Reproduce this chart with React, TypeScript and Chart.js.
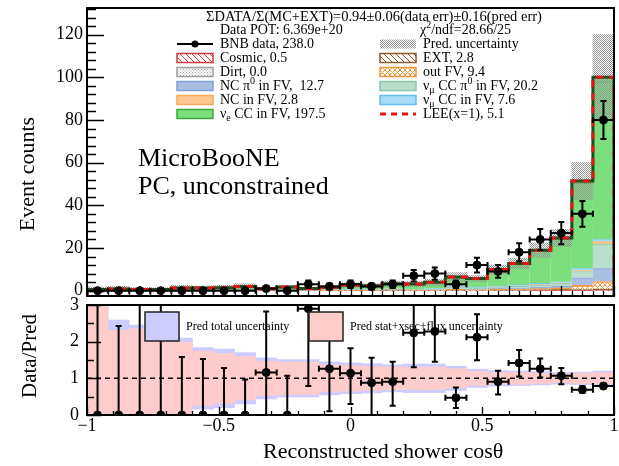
import React, { useEffect, useRef } from 'react';
import { Chart, registerables } from 'chart.js';

Chart.register(...registerables);

const FONT = "'Liberation Serif', 'DejaVu Serif', serif";

// ---------------- data ----------------
const binCenters = [-0.96, -0.88, -0.8, -0.72, -0.64, -0.56, -0.48, -0.4, -0.32, -0.24, -0.16, -0.08, 0, 0.08, 0.16, 0.24, 0.32, 0.4, 0.48, 0.56, 0.64, 0.72, 0.8, 0.88, 0.96];
const binHalfWidth = 0.04;

const cosmic = [0, 0, 0, 0, 0, 0, 0, 0, 0, 0, 0, 0, 0, 0, 0, 0, 0, 0, 0, 0, 0, 0.1, 0.1, 0.1, 0.2];
const ext = [0, 0, 0, 0, 0, 0, 0, 0, 0, 0, 0, 0, 0, 0, 0.2, 0, 0, 0.3, 0, 0.3, 0.3, 0.3, 0.4, 0.4, 0.6];
const dirt = [0, 0, 0, 0, 0, 0, 0, 0, 0, 0, 0, 0, 0, 0, 0, 0, 0, 0, 0, 0, 0, 0, 0, 0, 0];
const outFV = [0, 0, 0, 0, 0, 0, 0, 0, 0, 0, 0, 0.1, 0.1, 0.1, 0.2, 0.2, 0.2, 0.3, 0.4, 0.4, 0.5, 0.6, 0.8, 2.0, 3.5];
const ncPi0 = [0, 0, 0, 0, 0, 0, 0, 0, 0, 0, 0.1, 0.1, 0.1, 0.1, 0.1, 0.1, 0.1, 0.2, 0.2, 0.3, 0.4, 0.6, 0.8, 3.5, 6.0];
const numuPi0 = [0, 0, 0, 0, 0, 0, 0, 0, 0, 0, 0, 0.1, 0.1, 0.1, 0.2, 0.2, 0.3, 0.6, 0.5, 0.6, 0.8, 1.0, 1.2, 3.0, 11.5];
const ncFV = [0, 0, 0, 0, 0, 0, 0, 0, 0, 0, 0, 0, 0, 0, 0, 0.1, 0.1, 0.1, 0.1, 0.1, 0.2, 0.2, 0.3, 0.4, 1.2];
const numuCC = [0, 0.1, 0.1, 0, 0.1, 0.1, 0.1, 0.1, 0.1, 0.1, 0.1, 0.1, 0.2, 0.2, 0.2, 0.2, 0.3, 0.8, 0.4, 0.5, 0.5, 0.6, 0.6, 1.0, 1.0];
const nueCC = [0.5, 0.7, 0.5, 0.6, 1.1, 1.1, 1.3, 1.8, 0.8, 1.6, 0.8, 1.2, 2.1, 1.7, 2.3, 2.2, 2.8, 4.0, 3.9, 7.5, 9.7, 15.2, 20.0, 40.0, 74.0];
const lee = [0, 0, 0, 0, 0, 0, 0, 0, 0, 0, 0, 0, 0, 0.1, 0.1, 0.1, 0.1, 0.1, 0.2, 0.2, 0.3, 0.4, 0.5, 1.0, 2.0];

const dataCounts = [0, 0, 0, 0, 0, 0, 0, 0, 1, 0, 3, 2, 3, 2, 3, 7, 8, 3, 12, 9, 18, 24, 27, 36, 80];

const ratio = [0, 0, 0, 0, 0, 0, 0, 0, 1.16, 0, 2.9, 1.26, 1.14, 0.88, 0.91, 2.24, 2.28, 0.47, 2.12, 0.91, 1.42, 1.26, 1.07, 0.69, 0.79];
const ratioHi = [3.5, 2.43, 3.4, 3.1, 1.58, 1.53, 1.28, 0.97, 2.82, 1.07, 3.5, 2.3, 1.82, 1.56, 1.45, 3.1, 3.08, 0.75, 2.75, 1.21, 1.77, 1.54, 1.28, 0.79, 0.86];
const ratioLo = [0, 0, 0, 0, 0, 0, 0, 0, 0, 0, 0.79, 0.1, 0.3, 0, 0.25, 1.3, 1.45, 0.19, 1.49, 0.56, 1.05, 1.02, 0.84, 0.6, 0.72];

const predTotalRelErr = [2.5, 1.59, 1.45, 1.36, 1.1, 0.84, 0.8, 0.7, 0.56, 0.51, 0.51, 0.45, 0.42, 0.4, 0.37, 0.39, 0.39, 0.33, 0.25, 0.21, 0.2, 0.18, 0.16, 0.17, 0.2];
const predStatRelErr = [2.5, 1.31, 1.36, 1.26, 0.98, 0.74, 0.68, 0.59, 0.47, 0.44, 0.44, 0.37, 0.35, 0.33, 0.31, 0.3, 0.31, 0.26, 0.19, 0.16, 0.16, 0.14, 0.12, 0.14, 0.15];

const topYTickLabels = [0, 20, 40, 60, 80, 100, 120];
const botYTickLabels = [0, 1, 2, 3];
const botXTickLabels = [-1, -0.5, 0, 0.5, 1];

const TOP_MIN = -2.5;
const TOP_MAX = 132.5;

// ---------------- colours ----------------
const C = {
  cosmic: 'rgb(200,60,60)',
  ext: 'rgb(140,90,45)',
  dirt: 'rgb(160,160,160)',
  outFV: 'rgb(245,150,60)',
  ncPi0: 'rgb(170,190,228)',
  ncPi0B: 'rgb(130,160,215)',
  numuPi0: 'rgb(186,222,204)',
  numuPi0B: 'rgb(140,200,170)',
  nc: 'rgb(252,200,145)',
  ncB: 'rgb(250,170,95)',
  numuCC: 'rgb(168,220,248)',
  numuCCB: 'rgb(100,190,240)',
  nue: 'rgb(124,222,124)',
  nueB: 'rgb(60,170,60)',
  lee: 'rgb(235,20,20)',
  outline: 'rgb(30,80,30)',
  blue: 'rgb(204,204,255)',
  pink: 'rgb(255,204,204)',
};

function makePattern(size: number, draw: (c: CanvasRenderingContext2D) => void): CanvasPattern {
  const cv = document.createElement('canvas');
  cv.width = size;
  cv.height = size;
  const c = cv.getContext('2d')!;
  draw(c);
  return c.createPattern(cv, 'repeat')!;
}

function hatch(color: string, size: number, both: boolean) {
  return makePattern(size, (c) => {
    c.strokeStyle = color;
    c.lineWidth = 1;
    c.beginPath();
    for (let k = -1; k <= 1; k++) {
      c.moveTo(k * size, 0);
      c.lineTo(k * size + size, size);
      if (both) {
        c.moveTo(k * size + size, 0);
        c.lineTo(k * size, size);
      }
    }
    c.stroke();
  });
}

function dots(color: string, size: number) {
  return makePattern(size, (c) => {
    c.fillStyle = color;
    c.fillRect(0, 0, 1, 1);
    c.fillRect(size / 2, size / 2, 1, 1);
  });
}

type Seg = { t: string; s?: 'sup' | 'sub' };

function drawRich(ctx: CanvasRenderingContext2D, segs: Seg[], x: number, y: number, size: number) {
  let cx = x;
  ctx.textAlign = 'left';
  ctx.textBaseline = 'middle';
  for (const sg of segs) {
    if (sg.s) {
      ctx.font = `${Math.round(size * 0.7)}px ${FONT}`;
      const dy = sg.s === 'sup' ? -size * 0.35 : size * 0.3;
      ctx.fillText(sg.t, cx, y + dy);
      cx += ctx.measureText(sg.t).width;
    } else {
      ctx.font = `${size}px ${FONT}`;
      ctx.fillText(sg.t, cx, y);
      cx += ctx.measureText(sg.t).width;
    }
  }
}

type ErrPt = { x: number; y: number; lo: number; hi: number; xl: number; xh: number };

function drawErrBars(chart: any, xs: any, ys: any, pts: ErrPt[]) {
  const { ctx, chartArea: a } = chart;
  const cap = 3;
  ctx.save();
  ctx.beginPath();
  ctx.rect(a.left, a.top - 1, a.right - a.left, a.bottom - a.top + 2);
  ctx.clip();
  ctx.strokeStyle = '#000';
  ctx.lineWidth = 2;
  ctx.beginPath();
  for (const p of pts) {
    const px = xs.getPixelForValue(p.x);
    const py = ys.getPixelForValue(p.y);
    const x1 = xs.getPixelForValue(p.xl);
    const x2 = xs.getPixelForValue(p.xh);
    if (x2 > x1) {
      ctx.moveTo(x1, py);
      ctx.lineTo(x2, py);
      ctx.moveTo(x1, py - cap);
      ctx.lineTo(x1, py + cap);
      ctx.moveTo(x2, py - cap);
      ctx.lineTo(x2, py + cap);
    }
    if (p.hi > p.y || p.lo < p.y) {
      const y1 = ys.getPixelForValue(p.hi);
      const y2 = ys.getPixelForValue(p.lo);
      ctx.moveTo(px, y1);
      ctx.lineTo(px, y2);
      ctx.moveTo(px - cap, y1);
      ctx.lineTo(px + cap, y1);
      ctx.moveTo(px - cap, y2);
      ctx.lineTo(px + cap, y2);
    }
  }
  ctx.stroke();
  ctx.restore();
}

type TickSpec = {
  yId: string;
  yStart: number; yStep: number; yCount: number; yMajorEvery: number; yMaj: number; yMin: number;
  xStart: number; xStep: number; xCount: number; xMajorEvery: number; xMaj: number; xMin: number;
};

function drawFrame(chart: any, s: TickSpec) {
  const { ctx, chartArea: a } = chart;
  const xs = chart.scales.xl;
  const ys = chart.scales[s.yId];
  ctx.save();
  ctx.strokeStyle = '#000';
  ctx.lineWidth = 1.3;
  ctx.beginPath();
  for (let k = 0; k < s.yCount; k++) {
    const v = s.yStart + k * s.yStep;
    if (v < ys.min || v > ys.max) continue;
    const py = Math.round(ys.getPixelForValue(v)) + 0.5;
    const len = k % s.yMajorEvery === 0 ? s.yMaj : s.yMin;
    ctx.moveTo(a.left, py);
    ctx.lineTo(a.left + len, py);
  }
  for (let k = 0; k < s.xCount; k++) {
    const v = s.xStart + k * s.xStep;
    const px = Math.round(xs.getPixelForValue(v)) + 0.5;
    const len = k % s.xMajorEvery === 0 ? s.xMaj : s.xMin;
    ctx.moveTo(px, a.bottom);
    ctx.lineTo(px, a.bottom - len);
  }
  ctx.stroke();
  ctx.lineWidth = 2;
  ctx.strokeRect(a.left, a.top, a.right - a.left, a.bottom - a.top);
  ctx.restore();
}

function fmtX(v: number) {
  if (v === 0) return '0';
  const s = String(Math.abs(v));
  return v < 0 ? '\u2212' + s : s;
}

export default function App() {
  const topRef = useRef<HTMLCanvasElement>(null);
  const botRef = useRef<HTMLCanvasElement>(null);

  useEffect(() => {
    const cosmicPat = hatch(C.cosmic, 6, false);
    const extPat = hatch(C.ext, 6, false);
    const dirtPat = dots(C.dirt, 3);
    const outFVPat = hatch(C.outFV, 5, true);
    const uncPat = dots('rgb(150,150,150)', 2);

    const labels = binCenters.map((c) => c.toFixed(2));
    const totals = binCenters.map((_, i) => cosmic[i] + ext[i] + dirt[i] + outFV[i] + ncPi0[i] + numuPi0[i] + ncFV[i] + numuCC[i] + nueCC[i] + lee[i]);

    const comps = [
      { label: 'Cosmic', data: cosmic, bg: cosmicPat, bc: C.cosmic },
      { label: 'EXT', data: ext, bg: extPat, bc: C.ext },
      { label: 'Dirt', data: dirt, bg: dirtPat, bc: C.dirt },
      { label: 'out FV', data: outFV, bg: outFVPat, bc: C.outFV },
      { label: 'NC pi0 in FV', data: ncPi0, bg: C.ncPi0, bc: C.ncPi0B },
      { label: 'numu CC pi0 in FV', data: numuPi0, bg: C.numuPi0, bc: C.numuPi0B },
      { label: 'NC in FV', data: ncFV, bg: C.nc, bc: C.ncB },
      { label: 'numu CC in FV', data: numuCC, bg: C.numuCC, bc: C.numuCCB },
      { label: 'nue CC in FV', data: nueCC, bg: C.nue, bc: C.nueB },
      { label: 'LEE', data: lee, bg: C.nue, bc: C.nue },
    ];

    const barDatasets = comps.map((c) => ({
      type: 'bar' as const,
      label: c.label,
      data: c.data,
      backgroundColor: c.bg,
      borderColor: c.bc,
      borderWidth: { top: 1, left: 0, right: 0, bottom: 0 },
      xAxisID: 'x',
      yAxisID: 'y',
      order: 10,
      grouped: false,
      barPercentage: 1,
      categoryPercentage: 1,
    }));

    const outlinePts = [
      { x: -1, y: TOP_MIN },
      ...binCenters.map((c, i) => ({ x: c - binHalfWidth, y: totals[i] })),
      { x: 1, y: totals[totals.length - 1] },
      { x: 1, y: TOP_MIN },
    ];

    const topErr: ErrPt[] = binCenters.map((c, i) => {
      const e = Math.sqrt(dataCounts[i]);
      return { x: c, y: dataCounts[i], lo: dataCounts[i] - e, hi: dataCounts[i] + e, xl: c - binHalfWidth, xh: c + binHalfWidth };
    });

    const topSpec: TickSpec = {
      yId: 'y', yStart: 0, yStep: 4, yCount: 34, yMajorEvery: 5, yMaj: 17, yMin: 9,
      xStart: -1, xStep: 0.04, xCount: 51, xMajorEvery: 5, xMaj: 10, xMin: 5,
    };

    const legendLeft: { kind: string; fill?: any; border?: string; segs: Seg[] }[] = [
      { kind: 'data', segs: [{ t: 'BNB data, 238.0' }] },
      { kind: 'box', fill: cosmicPat, border: C.cosmic, segs: [{ t: 'Cosmic, 0.5' }] },
      { kind: 'box', fill: dirtPat, border: C.dirt, segs: [{ t: 'Dirt, 0.0' }] },
      { kind: 'box', fill: C.ncPi0, border: C.ncPi0B, segs: [{ t: 'NC \u03c0' }, { t: '0', s: 'sup' }, { t: ' in FV,  12.7' }] },
      { kind: 'box', fill: C.nc, border: C.ncB, segs: [{ t: 'NC in FV, 2.8' }] },
      { kind: 'box', fill: C.nue, border: C.nueB, segs: [{ t: '\u03bd' }, { t: 'e', s: 'sub' }, { t: ' CC in FV, 197.5' }] },
    ];
    const legendRight: { kind: string; fill?: any; border?: string; segs: Seg[] }[] = [
      { kind: 'unc', fill: uncPat, segs: [{ t: 'Pred. uncertainty' }] },
      { kind: 'box', fill: extPat, border: C.ext, segs: [{ t: 'EXT, 2.8' }] },
      { kind: 'box', fill: outFVPat, border: C.outFV, segs: [{ t: 'out FV, 9.4' }] },
      { kind: 'box', fill: C.numuPi0, border: C.numuPi0B, segs: [{ t: '\u03bd' }, { t: '\u03bc', s: 'sub' }, { t: ' CC \u03c0' }, { t: '0', s: 'sup' }, { t: ' in FV, 20.2' }] },
      { kind: 'box', fill: C.numuCC, border: C.numuCCB, segs: [{ t: '\u03bd' }, { t: '\u03bc', s: 'sub' }, { t: ' CC in FV, 7.6' }] },
      { kind: 'lee', segs: [{ t: 'LEE(x=1), 5.1' }] },
    ];

    const rowY = [44, 58, 72, 86, 100, 114];

    const drawSwatch = (ctx: CanvasRenderingContext2D, it: any, x0: number, x1: number, y: number) => {
      ctx.save();
      if (it.kind === 'data') {
        ctx.strokeStyle = '#000';
        ctx.lineWidth = 2;
        ctx.beginPath();
        ctx.moveTo(x0, y);
        ctx.lineTo(x1, y);
        ctx.stroke();
        ctx.fillStyle = '#000';
        ctx.beginPath();
        ctx.arc((x0 + x1) / 2, y, 3.5, 0, Math.PI * 2);
        ctx.fill();
      } else if (it.kind === 'lee') {
        ctx.strokeStyle = C.lee;
        ctx.lineWidth = 3;
        ctx.setLineDash([6, 5]);
        ctx.beginPath();
        ctx.moveTo(x0, y);
        ctx.lineTo(x1, y);
        ctx.stroke();
      } else if (it.kind === 'unc') {
        ctx.fillStyle = it.fill;
        ctx.fillRect(x0, y - 4.5, x1 - x0, 9);
      } else {
        ctx.fillStyle = '#fff';
        ctx.fillRect(x0, y - 4.5, x1 - x0, 9);
        ctx.fillStyle = it.fill;
        ctx.fillRect(x0, y - 4.5, x1 - x0, 9);
        ctx.strokeStyle = it.border;
        ctx.lineWidth = 1.5;
        ctx.strokeRect(x0, y - 4.5, x1 - x0, 9);
      }
      ctx.restore();
    };

    const topChart = new Chart(topRef.current!, {
      type: 'bar',
      data: {
        labels,
        datasets: [
          ...barDatasets,
          {
            type: 'bar',
            label: 'Pred. uncertainty',
            data: totals.map((t, i) => [t - t * predTotalRelErr[i], t + t * predTotalRelErr[i]]),
            backgroundColor: uncPat,
            borderWidth: 0,
            xAxisID: 'xu',
            yAxisID: 'yu',
            order: 5,
            grouped: false,
            barPercentage: 1,
            categoryPercentage: 1,
          },
          {
            type: 'line',
            label: 'outline',
            data: outlinePts,
            xAxisID: 'xl',
            yAxisID: 'yu',
            stepped: 'before',
            borderColor: C.outline,
            borderWidth: 3,
            pointRadius: 0,
            fill: false,
            order: 2,
          },
          {
            type: 'line',
            label: 'LEE(x=1)',
            data: outlinePts,
            xAxisID: 'xl',
            yAxisID: 'yu',
            stepped: 'before',
            borderColor: C.lee,
            borderWidth: 3,
            borderDash: [7, 6],
            pointRadius: 0,
            fill: false,
            order: 1,
          },
          {
            type: 'scatter',
            label: 'BNB data',
            data: binCenters.map((c, i) => ({ x: c, y: dataCounts[i] })),
            xAxisID: 'xl',
            yAxisID: 'yu',
            pointRadius: 4,
            pointBackgroundColor: '#000',
            pointBorderColor: '#000',
            order: 0,
          },
        ] as any,
      },
      options: {
        responsive: false,
        animation: false,
        devicePixelRatio: 1,
        events: [],
        layout: { padding: { top: 8, right: 5, bottom: 4, left: 0 }, autoPadding: false } as any,
        plugins: { legend: { display: false }, tooltip: { enabled: false } },
        scales: {
          x: { type: 'category', stacked: true, display: false, offset: true },
          xu: { type: 'category', display: false, offset: true, labels },
          xl: { type: 'linear', display: false, min: -1, max: 1, offset: false },
          y: {
            type: 'linear',
            position: 'left',
            stacked: true,
            min: TOP_MIN,
            max: TOP_MAX,
            grid: { display: false, drawTicks: false },
            border: { display: false },
            afterBuildTicks: (s: any) => {
              s.ticks = topYTickLabels.map((v) => ({ value: v }));
            },
            ticks: {
              color: '#000',
              padding: 4,
              font: { family: FONT, size: 18 },
              callback: (v: any) => String(v),
            },
            afterFit: (s: any) => {
              s.width = 87;
              s.paddingTop = 0;
              s.paddingBottom = 0;
            },
          },
          yu: { type: 'linear', display: false, min: TOP_MIN, max: TOP_MAX },
        } as any,
      },
      plugins: [
        {
          id: 'rootTop',
          afterDatasetsDraw(chart: any) {
            drawErrBars(chart, chart.scales.xl, chart.scales.yu, topErr);
            drawFrame(chart, topSpec);
          },
          afterDraw(chart: any) {
            const ctx: CanvasRenderingContext2D = chart.ctx;
            ctx.save();
            ctx.fillStyle = '#000';
            ctx.save();
            ctx.translate(28, 174);
            ctx.rotate(-Math.PI / 2);
            ctx.font = `22px ${FONT}`;
            ctx.textAlign = 'center';
            ctx.textBaseline = 'middle';
            ctx.fillText('Event counts', 0, 0);
            ctx.restore();
            drawRich(ctx, [{ t: '\u03a3DATA/\u03a3(MC+EXT)=0.94\u00b10.06(data err)\u00b10.16(pred err)' }], 206, 17, 14.5);
            drawRich(ctx, [{ t: 'Data POT: 6.369e+20' }], 220, 30, 14);
            drawRich(ctx, [{ t: '\u03c7' }, { t: '2', s: 'sup' }, { t: '/ndf=28.66/25' }], 420, 30, 14);
            legendLeft.forEach((it, i) => {
              drawSwatch(ctx, it, 177, 213, rowY[i]);
              ctx.fillStyle = '#000';
              drawRich(ctx, it.segs, 220, rowY[i], 14);
            });
            legendRight.forEach((it, i) => {
              drawSwatch(ctx, it, 380, 416, rowY[i]);
              ctx.fillStyle = '#000';
              drawRich(ctx, it.segs, 423, rowY[i], 14);
            });
            ctx.font = `26px ${FONT}`;
            ctx.textAlign = 'left';
            ctx.textBaseline = 'alphabetic';
            ctx.fillText('MicroBooNE', 138, 166);
            ctx.fillText('PC, unconstrained', 138, 194);
            ctx.restore();
          },
        },
      ],
    });

    const botErr: ErrPt[] = binCenters.map((c, i) => ({
      x: c,
      y: ratio[i],
      lo: ratioLo[i],
      hi: ratioHi[i],
      xl: ratio[i] > 0 ? c - binHalfWidth : c,
      xh: ratio[i] > 0 ? c + binHalfWidth : c,
    }));

    const botSpec: TickSpec = {
      yId: 'y', yStart: 0, yStep: 0.5, yCount: 7, yMajorEvery: 2, yMaj: 14, yMin: 7,
      xStart: -1, xStep: 0.1, xCount: 21, xMajorEvery: 5, xMaj: 8, xMin: 4,
    };

    const botChart = new Chart(botRef.current!, {
      type: 'bar',
      data: {
        labels,
        datasets: [
          {
            type: 'bar',
            label: 'Pred total uncertainty',
            data: predTotalRelErr.map((e) => [1 - e, 1 + e]),
            backgroundColor: C.blue,
            borderWidth: 0,
            xAxisID: 'xa',
            yAxisID: 'y',
            order: 6,
            grouped: false,
            barPercentage: 1,
            categoryPercentage: 1,
          },
          {
            type: 'bar',
            label: 'Pred stat+xsec+flux uncertainty',
            data: predStatRelErr.map((e) => [1 - e, 1 + e]),
            backgroundColor: C.pink,
            borderWidth: 0,
            xAxisID: 'xb',
            yAxisID: 'y',
            order: 5,
            grouped: false,
            barPercentage: 1,
            categoryPercentage: 1,
          },
          {
            type: 'line',
            label: 'unity',
            data: [{ x: -1, y: 1 }, { x: 1, y: 1 }],
            xAxisID: 'xl',
            yAxisID: 'y',
            borderColor: '#000',
            borderWidth: 1.5,
            borderDash: [5, 4],
            pointRadius: 0,
            fill: false,
            order: 2,
          },
          {
            type: 'scatter',
            label: 'Data/Pred',
            data: binCenters.map((c, i) => ({ x: c, y: ratio[i] })),
            xAxisID: 'xl',
            yAxisID: 'y',
            pointRadius: 4,
            pointBackgroundColor: '#000',
            pointBorderColor: '#000',
            order: 0,
          },
        ] as any,
      },
      options: {
        responsive: false,
        animation: false,
        devicePixelRatio: 1,
        events: [],
        layout: { padding: { top: 15, right: 5, bottom: 0, left: 0 }, autoPadding: false } as any,
        plugins: { legend: { display: false }, tooltip: { enabled: false } },
        scales: {
          xa: { type: 'category', display: false, offset: true },
          xb: { type: 'category', display: false, offset: true },
          xl: {
            type: 'linear',
            position: 'bottom',
            min: -1,
            max: 1,
            offset: false,
            grid: { display: false, drawTicks: false },
            border: { display: false },
            afterBuildTicks: (s: any) => {
              s.ticks = botXTickLabels.map((v) => ({ value: v }));
            },
            ticks: {
              autoSkip: false,
              maxRotation: 0,
              minRotation: 0,
              color: '#000',
              padding: 0,
              font: { family: FONT, size: 18 },
              callback: (v: any) => fmtX(Number(v)),
            },
            afterFit: (s: any) => {
              s.height = 51;
              s.paddingLeft = 0;
              s.paddingRight = 0;
            },
          },
          y: {
            type: 'linear',
            position: 'left',
            min: 0,
            max: 3,
            grid: { display: false, drawTicks: false },
            border: { display: false },
            afterBuildTicks: (s: any) => {
              s.ticks = botYTickLabels.map((v) => ({ value: v }));
            },
            ticks: {
              color: '#000',
              padding: 8,
              font: { family: FONT, size: 18 },
              callback: (v: any) => String(v),
            },
            afterFit: (s: any) => {
              s.width = 87;
              s.paddingTop = 0;
              s.paddingBottom = 0;
            },
          },
        } as any,
      },
      plugins: [
        {
          id: 'rootBot',
          afterDatasetsDraw(chart: any) {
            drawErrBars(chart, chart.scales.xl, chart.scales.y, botErr);
            drawFrame(chart, botSpec);
          },
          afterDraw(chart: any) {
            const ctx: CanvasRenderingContext2D = chart.ctx;
            ctx.save();
            ctx.fillStyle = '#000';
            ctx.save();
            ctx.translate(30, 66);
            ctx.rotate(-Math.PI / 2);
            ctx.font = `21px ${FONT}`;
            ctx.textAlign = 'center';
            ctx.textBaseline = 'middle';
            ctx.fillText('Data/Pred', 0, 0);
            ctx.restore();
            ctx.font = `22px ${FONT}`;
            ctx.textAlign = 'left';
            ctx.textBaseline = 'middle';
            ctx.fillText('Reconstructed shower cos\u03b8', 263, 162);
            const boxes = [
              { x: 145, fill: C.blue, text: 'Pred total uncertainty' },
              { x: 309, fill: C.pink, text: 'Pred stat+xsec+flux uncertainty' },
            ];
            for (const b of boxes) {
              ctx.fillStyle = b.fill;
              ctx.fillRect(b.x, 22, 34, 29);
              ctx.strokeStyle = '#222';
              ctx.lineWidth = 1.5;
              ctx.strokeRect(b.x, 22, 34, 29);
              ctx.fillStyle = '#000';
              ctx.font = `12px ${FONT}`;
              ctx.fillText(b.text, b.x + 41, 37);
            }
            ctx.restore();
          },
        },
      ],
    });

    return () => {
      topChart.destroy();
      botChart.destroy();
    };
  }, []);

  return (
    <div style={{ position: 'absolute', left: 0, top: 0, width: 619, height: 466, background: '#fff' }}>
      <canvas ref={topRef} width={619} height={300} style={{ position: 'absolute', left: 0, top: 0, width: 619, height: 300, display: 'block' }} />
      <canvas ref={botRef} width={619} height={176} style={{ position: 'absolute', left: 0, top: 290, width: 619, height: 176, display: 'block' }} />
    </div>
  );
}
